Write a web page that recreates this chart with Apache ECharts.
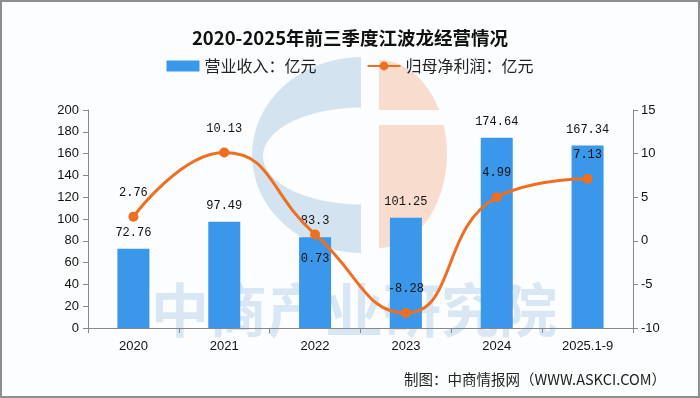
<!DOCTYPE html>
<html>
<head>
<meta charset="utf-8">
<script src="https://cdn.jsdelivr.net/npm/echarts@6/dist/echarts.min.js"></script>
<style>
  html, body { margin: 0; padding: 0; background: #fff; }
  #chart { width: 700px; height: 398px; box-sizing: border-box; border: 2px solid #8e8e8e; background: #fcfdfe; }
</style>
</head>
<body>
<div id="chart"></div>
<script>
var categories = ['2020', '2021', '2022', '2023', '2024', '2025.1-9'];
var revenue = [72.76, 97.49, 83.3, 101.25, 174.64, 167.34];
var netProfit = [2.76, 10.13, 0.73, -8.28, 4.99, 7.13];
// where each profit label sits relative to its point
var profitLabelPos = ['top', 'top', 'bottom', 'top', 'top', 'top'];

var labelFont = 'Liberation Mono';
var myChart = echarts.init(document.getElementById('chart'), null, { width: 696, height: 394 });

var option = {
    animation: false,
    title: {
        text: '2020-2025年前三季度江波龙经营情况',
        left: 'center',
        top: 22,
        textStyle: { fontFamily: 'Noto Sans CJK SC', fontSize: 18.5, fontWeight: 'bold', color: '#111' }
    },
    legend: {
        top: 51,
        left: 'center',
        itemGap: 50,
        itemWidth: 33,
        itemHeight: 11,
        textStyle: { fontFamily: 'Noto Sans CJK SC', fontSize: 16, color: '#222' },
        data: [
            { name: '营业收入：亿元', icon: 'rect' },
            { name: '归母净利润：亿元' }
        ]
    },
    grid: { left: 86, right: 65, top: 108, bottom: 68 },
    graphic: [
        // watermark logo, kept behind the series
        { type: 'sector', z: 0, silent: true, x: 359, y: 153, scaleX: 109 / 98,
          shape: { cx: 0, cy: 0, r: 98, startAngle: Math.PI / 2, endAngle: Math.PI * 3 / 2 },
          style: { fill: '#d3e4f0' } },
        { type: 'sector', z: 0, silent: true, x: 359, y: 154, scaleX: 98 / 48.5,
          shape: { cx: 0, cy: 0, r: 48.5, startAngle: Math.PI / 2, endAngle: Math.PI * 3 / 2 },
          style: { fill: '#fcfdfe' } },
        { type: 'sector', z: 0, silent: true, x: 377, y: 152, scaleX: 68 / 94,
          shape: { cx: 0, cy: 0, r: 94, startAngle: -Math.PI / 2, endAngle: Math.PI / 2 },
          style: { fill: '#f8ddce' } },
        { type: 'rect', z: 0, silent: true,
          shape: { x: 376, y: 108, width: 80, height: 15 },
          style: { fill: '#fcfdfe' } },
        { type: 'text', z: 0, silent: true, x: 352, y: 308,
          style: { text: '中商产业研究院', fontFamily: 'Noto Sans CJK SC', fontSize: 58, fontWeight: 'bold',
                   fill: '#d8e7f3', align: 'center', verticalAlign: 'middle' } },
        { type: 'text', right: 32, top: 370,
          style: { text: '制图：中商情报网（WWW.ASKCI.COM）', fontFamily: 'Noto Sans CJK SC', fontSize: 14.5, fill: '#222' } }
    ],
    xAxis: {
        type: 'category',
        data: categories,
        axisLine: { lineStyle: { color: '#888', width: 1 } },
        axisTick: { show: true, length: 5, lineStyle: { color: '#888' } },
        axisLabel: { color: '#111', fontFamily: 'Liberation Sans', fontSize: 13, margin: 12 }
    },
    yAxis: [
        {
            type: 'value', min: 0, max: 200, interval: 20,
            axisLine: { show: true, lineStyle: { color: '#888' } },
            axisTick: { show: true, length: 5, lineStyle: { color: '#888' } },
            axisLabel: { color: '#111', fontFamily: 'Liberation Sans', fontSize: 13, margin: 9 },
            splitLine: { show: false }
        },
        {
            type: 'value', min: -10, max: 15, interval: 5,
            axisLine: { show: true, lineStyle: { color: '#888' } },
            axisTick: { show: true, length: 5, lineStyle: { color: '#888' } },
            axisLabel: { color: '#111', fontFamily: 'Liberation Sans', fontSize: 13, margin: 8 },
            splitLine: { show: false }
        }
    ],
    series: [
        {
            name: '营业收入：亿元',
            type: 'bar',
            barWidth: 32,
            data: revenue,
            itemStyle: { color: '#3a97ea' },
            label: { show: true, position: 'top', distance: 10, color: '#111', fontFamily: labelFont, fontSize: 12 }
        },
        {
            name: '归母净利润：亿元',
            type: 'line',
            yAxisIndex: 1,
            smooth: 0.5,
            symbol: 'circle',
            symbolSize: 10,
            z: 3,
            data: netProfit.map(function (v, i) {
                return { value: v, label: { position: profitLabelPos[i] } };
            }),
            lineStyle: { color: '#ef6f21', width: 3 },
            itemStyle: { color: '#ef6f21' },
            label: { show: true, distance: 13, color: '#111', fontFamily: labelFont, fontSize: 12 }
        }
    ]
};
myChart.setOption(option);
</script>
</body>
</html>
